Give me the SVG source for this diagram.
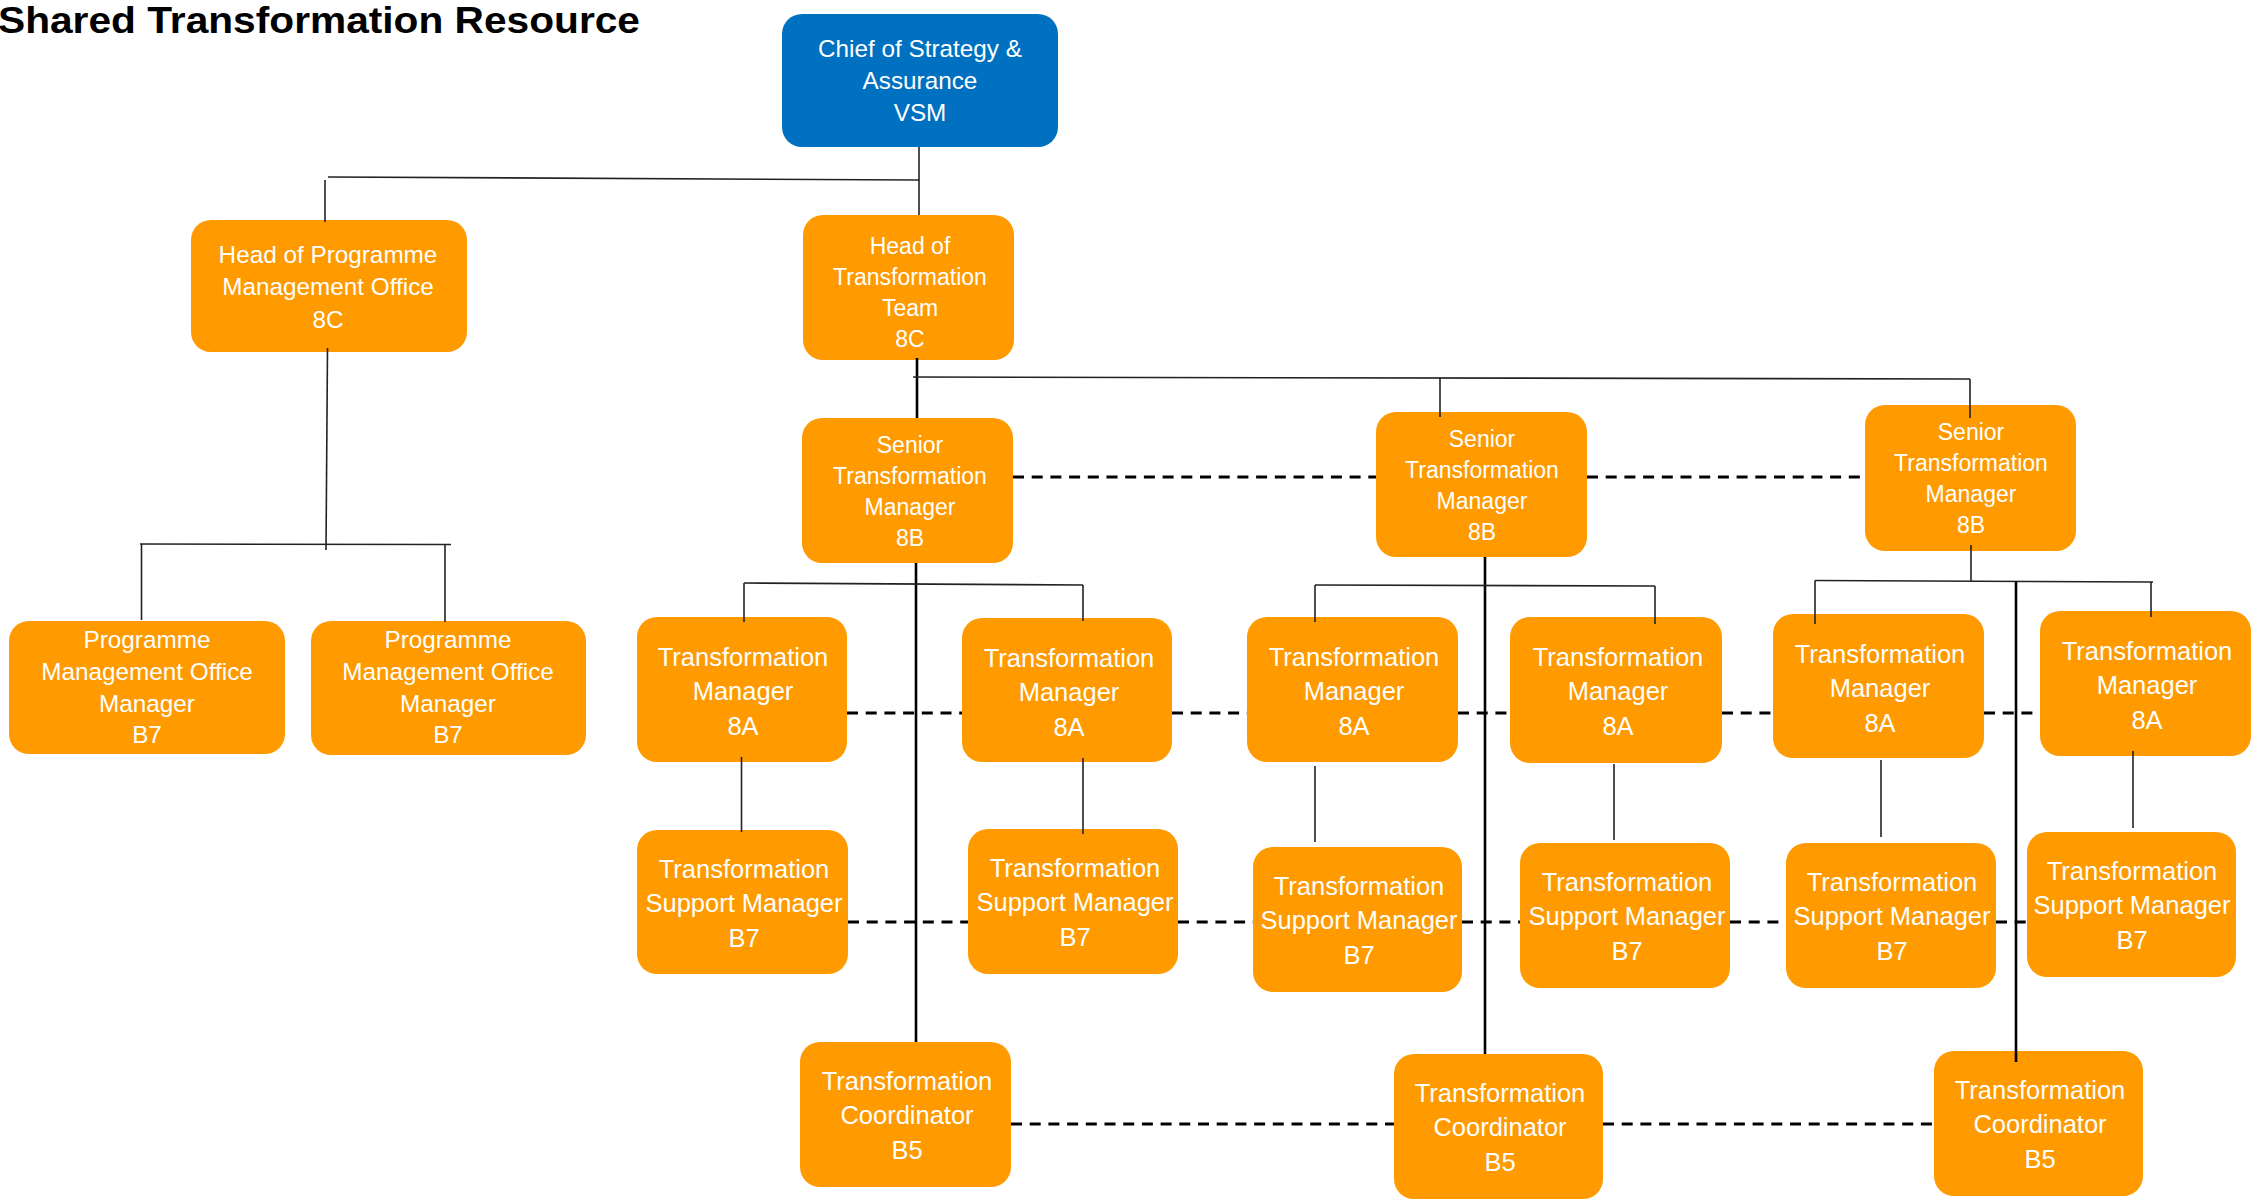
<svg xmlns="http://www.w3.org/2000/svg" width="2253" height="1203" viewBox="0 0 2253 1203">
<style>
  .box { fill: #FF9A00; }
  .blue { fill: #0070C0; }
  .t { font-family: "Liberation Sans", Arial, sans-serif; fill: #FFFFFF; text-anchor: middle; }
  .s23 { font-size: 23px; }
  .s24 { font-size: 24.3px; }
  .s25 { font-size: 25.5px; }
  .thin { stroke: #222; stroke-width: 1.6; fill: none; }
  .thick { stroke: #000; stroke-width: 2.6; fill: none; }
  .dash { stroke: #000; stroke-width: 3; stroke-dasharray: 11 7.7; fill: none; }
  .title { font-family: "Liberation Sans", Arial, sans-serif; font-weight: bold; font-size: 37px; fill: #000; }
</style>
<rect width="2253" height="1203" fill="#FFFFFF"/>
<text class="title" x="-2" y="33" textLength="642" lengthAdjust="spacingAndGlyphs">Shared Transformation Resource</text>

<g id="nodes">
  <g id="chief">
    <rect class="blue" x="782" y="14" width="276" height="133" rx="20"/>
    <text class="t s24" x="920" y="57">Chief of Strategy &amp;</text>
    <text class="t s24" x="920" y="89">Assurance</text>
    <text class="t s24" x="920" y="121">VSM</text>
  </g>
  <g id="head-pmo">
    <rect class="box" x="191" y="220" width="276" height="132" rx="20"/>
    <text class="t s24" x="328" y="263">Head of Programme</text>
    <text class="t s24" x="328" y="295">Management Office</text>
    <text class="t s24" x="328" y="328">8C</text>
  </g>
  <g id="head-tt">
    <rect class="box" x="803" y="215" width="211" height="145" rx="20"/>
    <text class="t s23" x="910" y="254">Head of</text>
    <text class="t s23" x="910" y="285">Transformation</text>
    <text class="t s23" x="910" y="316">Team</text>
    <text class="t s23" x="910" y="347">8C</text>
  </g>
  <g id="pmom1">
    <rect class="box" x="9" y="621" width="276" height="133" rx="20"/>
    <text class="t s24" x="147" y="648">Programme</text>
    <text class="t s24" x="147" y="680">Management Office</text>
    <text class="t s24" x="147" y="712">Manager</text>
    <text class="t s24" x="147" y="743">B7</text>
  </g>
  <g id="pmom2">
    <rect class="box" x="311" y="621" width="275" height="134" rx="20"/>
    <text class="t s24" x="448" y="648">Programme</text>
    <text class="t s24" x="448" y="680">Management Office</text>
    <text class="t s24" x="448" y="712">Manager</text>
    <text class="t s24" x="448" y="743">B7</text>
  </g>
  <g id="stm1">
    <rect class="box" x="802" y="418" width="211" height="145" rx="20"/>
    <text class="t s23" x="910" y="453">Senior</text>
    <text class="t s23" x="910" y="484">Transformation</text>
    <text class="t s23" x="910" y="515">Manager</text>
    <text class="t s23" x="910" y="546">8B</text>
  </g>
  <g id="stm2">
    <rect class="box" x="1376" y="412" width="211" height="145" rx="20"/>
    <text class="t s23" x="1482" y="447">Senior</text>
    <text class="t s23" x="1482" y="478">Transformation</text>
    <text class="t s23" x="1482" y="509">Manager</text>
    <text class="t s23" x="1482" y="540">8B</text>
  </g>
  <g id="stm3">
    <rect class="box" x="1865" y="405" width="211" height="146" rx="20"/>
    <text class="t s23" x="1971" y="440">Senior</text>
    <text class="t s23" x="1971" y="471">Transformation</text>
    <text class="t s23" x="1971" y="502">Manager</text>
    <text class="t s23" x="1971" y="533">8B</text>
  </g>
  <g id="tm1">
    <rect class="box" x="637" y="617" width="210" height="145" rx="20"/>
    <text class="t s25" x="743" y="666">Transformation</text>
    <text class="t s25" x="743" y="700">Manager</text>
    <text class="t s25" x="743" y="735">8A</text>
  </g>
  <g id="tm2">
    <rect class="box" x="962" y="618" width="210" height="144" rx="20"/>
    <text class="t s25" x="1069" y="667">Transformation</text>
    <text class="t s25" x="1069" y="701">Manager</text>
    <text class="t s25" x="1069" y="736">8A</text>
  </g>
  <g id="tm3">
    <rect class="box" x="1247" y="617" width="211" height="145" rx="20"/>
    <text class="t s25" x="1354" y="666">Transformation</text>
    <text class="t s25" x="1354" y="700">Manager</text>
    <text class="t s25" x="1354" y="735">8A</text>
  </g>
  <g id="tm4">
    <rect class="box" x="1510" y="617" width="212" height="146" rx="20"/>
    <text class="t s25" x="1618" y="666">Transformation</text>
    <text class="t s25" x="1618" y="700">Manager</text>
    <text class="t s25" x="1618" y="735">8A</text>
  </g>
  <g id="tm5">
    <rect class="box" x="1773" y="614" width="211" height="144" rx="20"/>
    <text class="t s25" x="1880" y="663">Transformation</text>
    <text class="t s25" x="1880" y="697">Manager</text>
    <text class="t s25" x="1880" y="732">8A</text>
  </g>
  <g id="tm6">
    <rect class="box" x="2040" y="611" width="211" height="145" rx="20"/>
    <text class="t s25" x="2147" y="660">Transformation</text>
    <text class="t s25" x="2147" y="694">Manager</text>
    <text class="t s25" x="2147" y="729">8A</text>
  </g>
  <g id="tsm1">
    <rect class="box" x="637" y="830" width="211" height="144" rx="20"/>
    <text class="t s25" x="744" y="878">Transformation</text>
    <text class="t s25" x="744" y="912">Support Manager</text>
    <text class="t s25" x="744" y="947">B7</text>
  </g>
  <g id="tsm2">
    <rect class="box" x="968" y="829" width="210" height="145" rx="20"/>
    <text class="t s25" x="1075" y="877">Transformation</text>
    <text class="t s25" x="1075" y="911">Support Manager</text>
    <text class="t s25" x="1075" y="946">B7</text>
  </g>
  <g id="tsm3">
    <rect class="box" x="1253" y="847" width="209" height="145" rx="20"/>
    <text class="t s25" x="1359" y="895">Transformation</text>
    <text class="t s25" x="1359" y="929">Support Manager</text>
    <text class="t s25" x="1359" y="964">B7</text>
  </g>
  <g id="tsm4">
    <rect class="box" x="1520" y="843" width="210" height="145" rx="20"/>
    <text class="t s25" x="1627" y="891">Transformation</text>
    <text class="t s25" x="1627" y="925">Support Manager</text>
    <text class="t s25" x="1627" y="960">B7</text>
  </g>
  <g id="tsm5">
    <rect class="box" x="1786" y="843" width="210" height="145" rx="20"/>
    <text class="t s25" x="1892" y="891">Transformation</text>
    <text class="t s25" x="1892" y="925">Support Manager</text>
    <text class="t s25" x="1892" y="960">B7</text>
  </g>
  <g id="tsm6">
    <rect class="box" x="2027" y="832" width="209" height="145" rx="20"/>
    <text class="t s25" x="2132" y="880">Transformation</text>
    <text class="t s25" x="2132" y="914">Support Manager</text>
    <text class="t s25" x="2132" y="949">B7</text>
  </g>
  <g id="tc1">
    <rect class="box" x="800" y="1042" width="211" height="145" rx="20"/>
    <text class="t s25" x="907" y="1090">Transformation</text>
    <text class="t s25" x="907" y="1124">Coordinator</text>
    <text class="t s25" x="907" y="1159">B5</text>
  </g>
  <g id="tc2">
    <rect class="box" x="1394" y="1054" width="209" height="145" rx="20"/>
    <text class="t s25" x="1500" y="1102">Transformation</text>
    <text class="t s25" x="1500" y="1136">Coordinator</text>
    <text class="t s25" x="1500" y="1171">B5</text>
  </g>
  <g id="tc3">
    <rect class="box" x="1934" y="1051" width="209" height="145" rx="20"/>
    <text class="t s25" x="2040" y="1099">Transformation</text>
    <text class="t s25" x="2040" y="1133">Coordinator</text>
    <text class="t s25" x="2040" y="1168">B5</text>
  </g>
</g>

<g id="connectors">
  <!-- solid reporting lines -->
  <line class="thin" x1="919" y1="147" x2="919" y2="215"/>
  <line class="thin" x1="328" y1="177" x2="919" y2="180"/>
  <line class="thin" x1="325" y1="180" x2="325" y2="222"/>
  <line class="thin" x1="327.5" y1="348" x2="326" y2="550"/>
  <line class="thin" x1="140" y1="544" x2="451" y2="544.5"/>
  <line class="thin" x1="141.5" y1="544" x2="141.5" y2="620"/>
  <line class="thin" x1="445" y1="544.5" x2="445" y2="622"/>

  <line class="thick" x1="917" y1="358" x2="917" y2="418"/>
  <line class="thin" x1="913" y1="377" x2="1970" y2="379"/>
  <line class="thin" x1="1440" y1="378" x2="1440" y2="417"/>
  <line class="thin" x1="1970" y1="379" x2="1970" y2="418"/>

  <line class="thick" x1="916" y1="563" x2="916" y2="1042"/>
  <line class="thin" x1="744" y1="583" x2="1083" y2="585"/>
  <line class="thin" x1="744" y1="583" x2="744" y2="622"/>
  <line class="thin" x1="1083" y1="585" x2="1083" y2="621"/>
  <line class="thin" x1="741.5" y1="757" x2="741.5" y2="832"/>
  <line class="thin" x1="1083" y1="758" x2="1083" y2="834"/>

  <line class="thick" x1="1485" y1="557" x2="1485" y2="1054"/>
  <line class="thin" x1="1315" y1="585" x2="1655" y2="586"/>
  <line class="thin" x1="1315" y1="585" x2="1315" y2="622"/>
  <line class="thin" x1="1655" y1="586" x2="1655" y2="624"/>
  <line class="thin" x1="1315" y1="766" x2="1315" y2="842"/>
  <line class="thin" x1="1614" y1="764" x2="1614" y2="840"/>

  <line class="thin" x1="1971" y1="545" x2="1971" y2="581"/>
  <line class="thin" x1="1815" y1="580.5" x2="2153" y2="582"/>
  <line class="thin" x1="1815" y1="580.5" x2="1815" y2="624"/>
  <line class="thin" x1="2151" y1="582" x2="2151" y2="617"/>
  <line class="thick" x1="2016" y1="581" x2="2016" y2="1062"/>
  <line class="thin" x1="1881" y1="760" x2="1881" y2="837"/>
  <line class="thin" x1="2133" y1="751" x2="2133" y2="828"/>

  <!-- dashed peer lines -->
  <line class="dash" x1="1013" y1="477" x2="1376" y2="477"/>
  <line class="dash" x1="1587" y1="477" x2="1865" y2="477"/>

  <line class="dash" x1="847" y1="713" x2="962" y2="713"/>
  <line class="dash" x1="1172" y1="713" x2="1247" y2="713"/>
  <line class="dash" x1="1458" y1="713" x2="1510" y2="713"/>
  <line class="dash" x1="1722" y1="713" x2="1773" y2="713"/>
  <line class="dash" x1="1984" y1="713" x2="2040" y2="713"/>

  <line class="dash" x1="848" y1="922" x2="968" y2="922"/>
  <line class="dash" x1="1178" y1="922" x2="1253" y2="922"/>
  <line class="dash" x1="1462" y1="922" x2="1520" y2="922"/>
  <line class="dash" x1="1730" y1="922" x2="1786" y2="922"/>
  <line class="dash" x1="1996" y1="922" x2="2027" y2="922"/>

  <line class="dash" x1="1011" y1="1124" x2="1394" y2="1124"/>
  <line class="dash" x1="1603" y1="1124" x2="1934" y2="1124"/>
</g>
</svg>
